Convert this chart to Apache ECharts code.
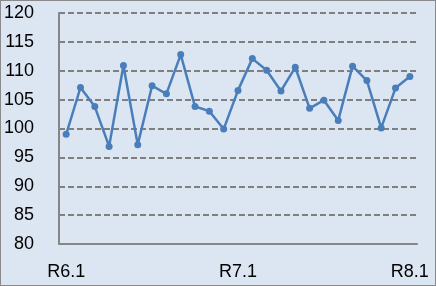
<!DOCTYPE html>
<html><head><meta charset="utf-8">
<script src="https://cdn.jsdelivr.net/npm/echarts@6/dist/echarts.min.js"></script>
<style>
html,body{margin:0;padding:0;background:#dce6f2;}
#c{width:436px;height:286px;}
#b{position:absolute;left:0;top:0;width:436px;height:286px;box-sizing:border-box;border:1px solid #8a8a8a;pointer-events:none;}
</style></head>
<body>
<div id="c"></div><div id="b"></div>
<script>
const months = ['R6.1','R6.2','R6.3','R6.4','R6.5','R6.6','R6.7','R6.8','R6.9','R6.10','R6.11','R6.12',
  'R7.1','R7.2','R7.3','R7.4','R7.5','R7.6','R7.7','R7.8','R7.9','R7.10','R7.11','R7.12','R8.1'];
const values = [99.0,107.1,103.8,96.9,110.9,97.2,107.4,106.0,112.8,103.8,103.0,99.9,
  106.6,112.1,110.1,106.5,110.6,103.5,104.9,101.4,110.8,108.3,100.1,107.0,109.0];
const yTicks = {min:80,max:120,interval:5};

const chart = echarts.init(document.getElementById('c'),null,{renderer:'canvas'});
chart.setOption({
  backgroundColor:'#dce6f2',
  animation:false,
  grid:{left:59,right:19,top:13,bottom:42},
  xAxis:{type:'category',data:months,boundaryGap:true,
    axisLine:{lineStyle:{color:'#868686',width:2}},
    axisTick:{show:false},
    axisLabel:{interval:(i)=>i%12===0,color:'#000',fontFamily:'Liberation Sans',fontSize:18,margin:19}},
  yAxis:{type:'value',min:yTicks.min,max:yTicks.max,interval:yTicks.interval,
    axisLine:{show:true,lineStyle:{color:'#868686',width:2}},
    axisTick:{show:false},
    axisLabel:{color:'#000',fontFamily:'Liberation Sans',fontSize:18,margin:25},
    splitLine:{lineStyle:{color:'#808080',width:2,type:[6,3]}}},
  series:[{type:'line',data:values,symbol:'circle',symbolSize:7,
    lineStyle:{color:'#4a7ebb',width:2.5},itemStyle:{color:'#4a7ebb'}}]
});
</script>
</body></html>
